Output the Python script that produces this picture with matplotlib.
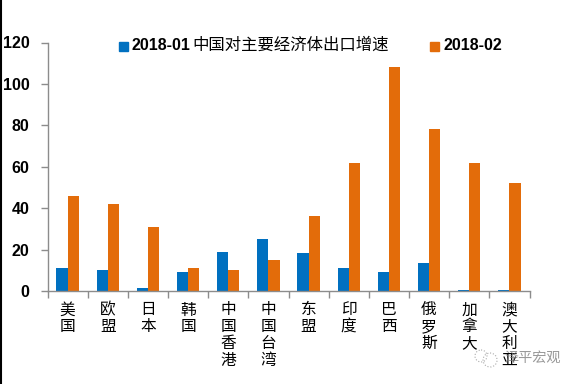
import numpy as np
import matplotlib
matplotlib.use("Agg")
import matplotlib.pyplot as plt
from matplotlib.patches import Circle, Rectangle

plt.rcParams['font.family'] = ['Noto Sans CJK SC', 'DejaVu Sans']

categories = ["美国", "欧盟", "日本", "韩国", "中国香港", "中国台湾", "东盟", "印度", "巴西", "俄罗斯", "加拿大", "澳大利亚"]
jan = [11, 10, 1.5, 9, 19, 25, 18.5, 11, 9, 13.5, 0.5, 0.5]
feb = [46, 42, 31, 11, 10, 15, 36, 62, 108, 78, 62, 52]
yticks = [0, 20, 40, 60, 80, 100, 120]

W, H = 578, 384
fig = plt.figure(figsize=(W / 100, H / 100), dpi=100)
ax = fig.add_axes([47.5 / W, 1 - 291 / H, (529.5 - 47.5) / W, (291 - 42.5) / H])

x = np.arange(len(categories))
ax.bar(x - 0.14, jan, 0.28, color="#0070c0")
ax.bar(x + 0.14, feb, 0.28, color="#e36c0a")

ax.set_xlim(-0.5, len(categories) - 0.5)
ax.set_ylim(0, 120)
for s in ["top", "right"]:
    ax.spines[s].set_visible(False)
for s in ["left", "bottom"]:
    ax.spines[s].set_color("#8c8c8c")
    ax.spines[s].set_linewidth(1.0)

ax.set_yticks(yticks)
ax.set_yticklabels(yticks, family="Liberation Sans", fontweight="bold", fontsize=11.5, color="black")
ax.set_xticks(np.arange(len(categories) + 1) - 0.5)
ax.set_xticklabels([])
ax.tick_params(axis="y", direction="out", length=5, width=1, color="#8c8c8c", pad=8)
ax.tick_params(axis="x", direction="out", length=5, width=1, color="#8c8c8c")

# category names run top to bottom, one character per line
for i, name in enumerate(categories):
    ax.annotate("\n".join(name), (i, 0), xytext=(0, -7.5), textcoords="offset points",
                ha="center", va="top", fontsize=11.3, linespacing=0.98, color="black",
                annotation_clip=False)

# legend with the chart title sitting between its two entries
def px(a, b):
    return a / W, 1 - b / H

fig.add_artist(Rectangle(px(119, 51), 9 / W, 9 / H, transform=fig.transFigure, color="#0070c0"))
fig.add_artist(Rectangle(px(430, 51), 9 / W, 9 / H, transform=fig.transFigure, color="#e36c0a"))
fig.text(*px(132, 46), "2018-01", family="Liberation Sans", fontweight="bold", fontsize=11.5, va="center")
fig.text(*px(192, 45), "中国对主要经济体出口增速", fontsize=11.8, va="center")
fig.text(*px(443, 46), "2018-02", family="Liberation Sans", fontweight="bold", fontsize=11.5, va="center")

# frame edge on the left of the screenshot
fig.add_artist(plt.Line2D([1 / W, 1 / W], [0, 1], color="black", lw=1.5))

# watermark
fig.text(*px(504, 358), "泽平宏观", fontsize=10.2, color="#777777", alpha=0.75, ha="left", va="center")
wm = fig.add_axes([0, 0, 1, 1], facecolor="none")
wm.set_xlim(0, W)
wm.set_ylim(H, 0)
wm.axis("off")
wm.add_patch(Circle((481, 356), 6, fill=False, ec="#aaaaaa", lw=0.8, ls=":"))
wm.add_patch(Circle((490, 360), 7, fill=False, ec="#aaaaaa", lw=0.8, ls=":"))

fig.savefig("out.png", dpi=100)
